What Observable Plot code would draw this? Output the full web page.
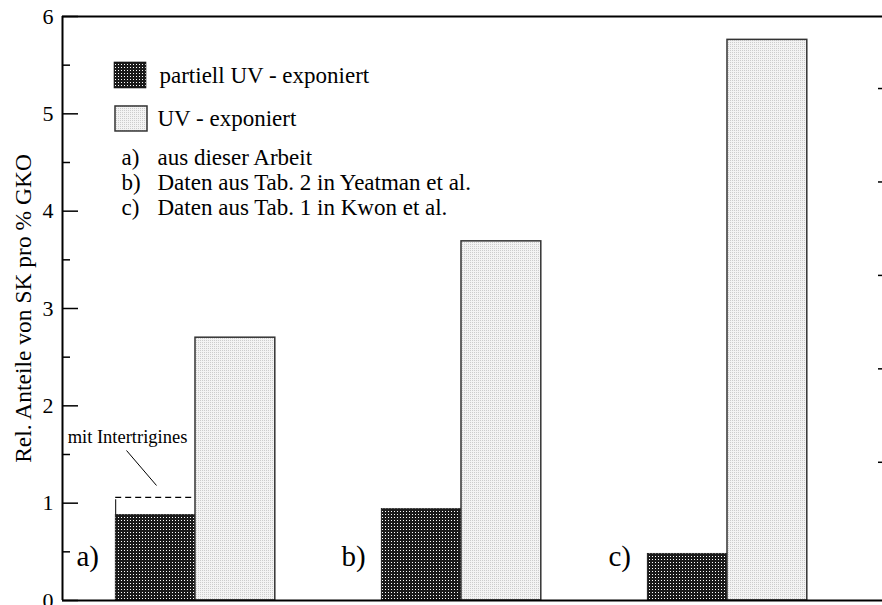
<!DOCTYPE html>
<html><head><meta charset="utf-8">
<script src="https://cdn.jsdelivr.net/npm/d3@7"></script>
<script src="https://cdn.jsdelivr.net/npm/@observablehq/plot@0.6"></script>
<style>body{margin:0;background:#fff} svg{display:block} svg text{font-family:"Liberation Serif","Times New Roman",serif}</style>
</head><body><div id="chart"></div>
<script>
const groups = ["a)", "b)", "c)"];
const partiell = [0.88, 0.94, 0.48];
const exponiert = [2.70, 3.69, 5.76];
const intertrigines = 1.06;
const yTicks = [0, 1, 2, 3, 4, 5, 6];
const yMinorTicks = [0.5, 1.5, 2.5, 3.5, 4.5, 5.5];
const rightTicks = [1.42, 2.38, 3.34, 4.30, 5.26];
const legendLabels = ["partiell UV - exponiert", "UV - exponiert"];
const noteKeys = ["a)", "b)", "c)"];
const noteTexts = ["aus dieser Arbeit", "Daten aus Tab. 2 in Yeatman et al.", "Daten aus Tab. 1 in Kwon et al."];
const yLabel = "Rel. Anteile von SK pro % GKO";
const annotation = "mit Intertrigines";

const data = groups.map((g, i) => ({g, i, p: partiell[i], e: exponiert[i]}));
const notes = noteKeys.map((k, i) => ({k, t: noteTexts[i], i}));

// pixel -> data helpers for annotation placement
const X = px => (px - 62) / 266;
const Y = py => (600 - py) / 97.33;
const font = "Liberation Serif";

const plot = Plot.plot({
  width: 882, height: 605,
  marginLeft: 62, marginRight: 0, marginTop: 16, marginBottom: 5,
  x: {type: "linear", domain: [0, 820 / 266], axis: null},
  y: {domain: [0, 6], axis: null},
  style: {fontFamily: font, background: "#fff", color: "#000"},
  marks: [
    // bars
    Plot.rect(data, {x1: d => d.i + 0.2, x2: d => d.i + 0.5, y1: 0, y2: "p", fill: "url(#pDark)", stroke: "#111", strokeWidth: 0.6}),
    Plot.rect(data, {x1: d => d.i + 0.5, x2: d => d.i + 0.8, y1: 0, y2: "e", fill: "url(#pLight)", stroke: "#333", strokeWidth: 1.5}),
    // Intertrigines marker
    Plot.ruleY([intertrigines], {x1: 0.2, x2: 0.5, stroke: "#000", strokeWidth: 1.4, strokeDasharray: "6,4"}),
    Plot.ruleX([0.2], {y1: partiell[0], y2: intertrigines - 0.025, stroke: "#000", strokeWidth: 1}),
    Plot.text([annotation], {x: X(127), y: Y(437), text: d => d, fontSize: 18.5, fontFamily: font}),
    Plot.link([0], {x1: X(126), y1: Y(450), x2: X(156), y2: Y(485), stroke: "#000", strokeWidth: 1}),
    // frame
    Plot.ruleX([0], {y1: 0, y2: 6, stroke: "#000", strokeWidth: 2}),
    Plot.ruleY([6], {x1: 0, x2: 820 / 266, stroke: "#000", strokeWidth: 2}),
    Plot.ruleY([0], {x1: 0, x2: 820 / 266, stroke: "#000", strokeWidth: 2}),
    // ticks
    Plot.ruleY(yTicks, {x1: 0, x2: X(78), stroke: "#000", strokeWidth: 1.5}),
    Plot.ruleY(yMinorTicks, {x1: 0, x2: X(70), stroke: "#000", strokeWidth: 1.5}),
    Plot.ruleY(rightTicks, {x1: X(878), x2: X(882), stroke: "#000", strokeWidth: 1.5}),
    Plot.text(yTicks, {x: 0, y: d => d, text: d => String(d), textAnchor: "end", dx: -9, fontSize: 22, fontFamily: font}),
    // y label
    Plot.text([yLabel], {x: X(23), y: Y(308), text: d => d, rotate: -90, fontSize: 23.5, fontFamily: font}),
    // group labels
    Plot.text(data, {x: d => d.i + 0.2, y: Y(556), text: "g", dx: -28, fontSize: 29, fontFamily: font}),
    // legend
    Plot.rect([0], {x1: X(114), x2: X(146), y1: Y(88), y2: Y(62), fill: "url(#pDark)", stroke: "#111", strokeWidth: 0.6}),
    Plot.rect([0], {x1: X(115), x2: X(147), y1: Y(131), y2: Y(106), fill: "url(#pLight)", stroke: "#333", strokeWidth: 1.5}),
    Plot.text([legendLabels[0]], {x: X(159), y: Y(75), text: d => d, textAnchor: "start", fontSize: 23, fontFamily: font}),
    Plot.text([legendLabels[1]], {x: X(157), y: Y(118), text: d => d, textAnchor: "start", fontSize: 23, fontFamily: font}),
    Plot.text(notes, {x: X(121), y: d => Y(157 + 25 * d.i), text: "k", textAnchor: "start", fontSize: 23, fontFamily: font}),
    Plot.text(notes, {x: X(157), y: d => Y(157 + 25 * d.i), text: "t", textAnchor: "start", fontSize: 23, fontFamily: font})
  ]
});

// fill patterns
const defs = d3.select(plot).insert("defs", ":first-child");
const pd = defs.append("pattern").attr("id", "pDark").attr("patternUnits", "userSpaceOnUse").attr("width", 3).attr("height", 3);
pd.append("rect").attr("width", 3).attr("height", 3).attr("fill", "#1a1a1a");
pd.append("rect").attr("x", 1).attr("y", 1).attr("width", 1).attr("height", 1).attr("fill", "#ffffff");
const pl = defs.append("pattern").attr("id", "pLight").attr("patternUnits", "userSpaceOnUse").attr("width", 2).attr("height", 2);
pl.append("rect").attr("width", 2).attr("height", 2).attr("fill", "#f3f3f3");
pl.append("rect").attr("width", 1).attr("height", 1).attr("fill", "#cccccc");

document.getElementById("chart").appendChild(plot);
</script>
</body></html>
